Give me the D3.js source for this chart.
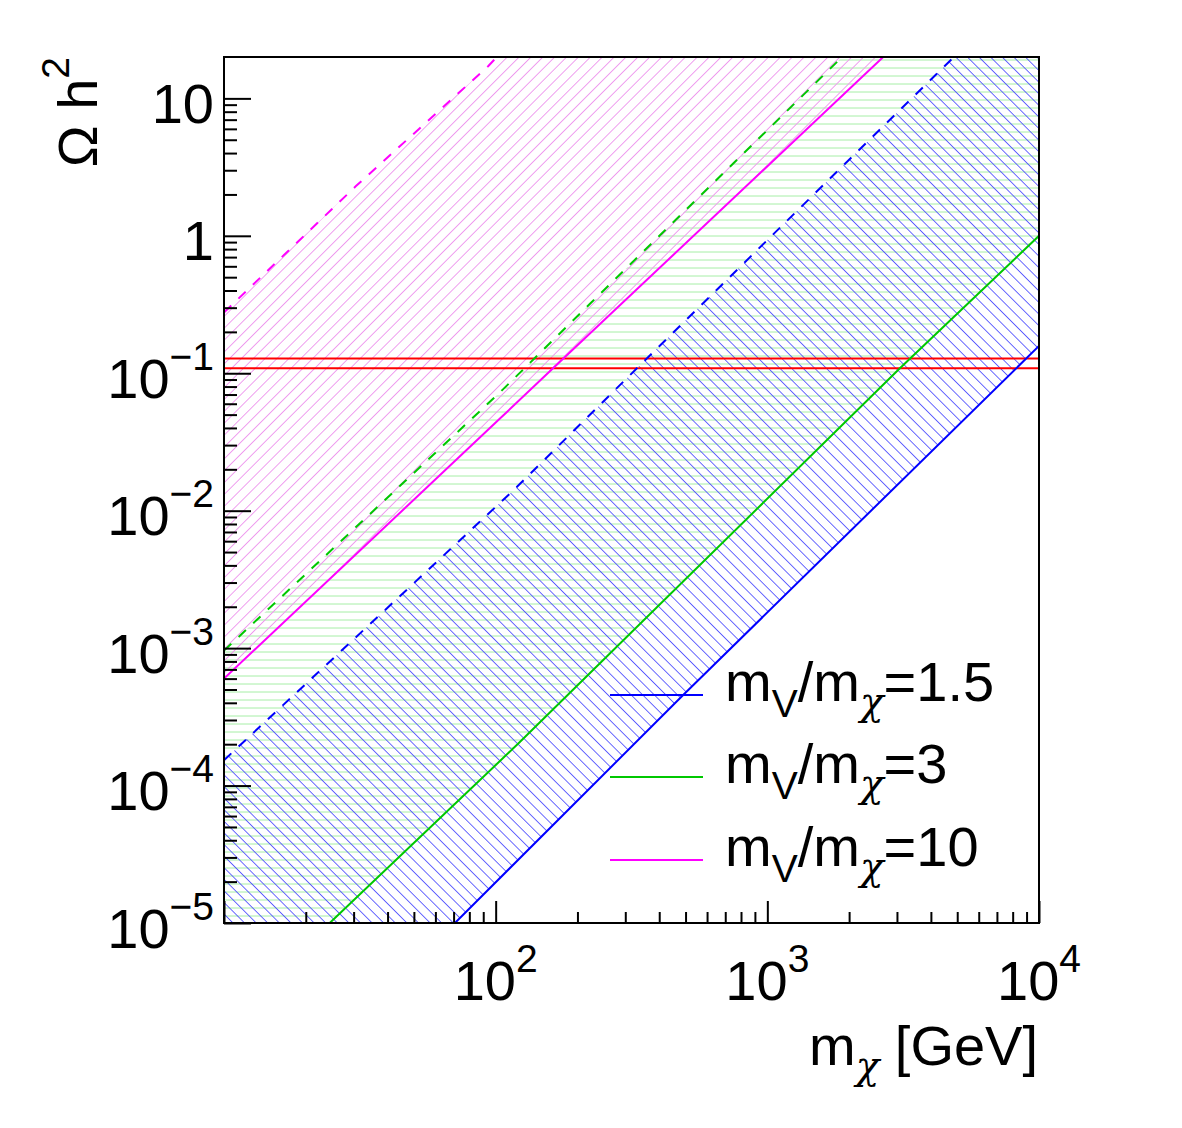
<!DOCTYPE html>
<html><head><meta charset="utf-8">
<script src="https://cdn.jsdelivr.net/npm/d3@7"></script>
<style>
body{margin:0;background:#fff}
text{font-family:"Liberation Sans",Arial,Helvetica,sans-serif;fill:#000}
.greek{font-family:"DejaVu Serif","Liberation Serif",serif;font-style:italic}
</style>
</head><body>
<svg id="c" width="1182" height="1128"></svg>
<script>
// ---------------- data ----------------
const xDomain = [10, 1e4];
const yDomain = [1e-5, 20];
const xMajorTicks = [10, 100, 1000, 10000];
const xTickLabels = [["10", "2", 100], ["10", "3", 1000], ["10", "4", 10000]];
const yMajorTicks = [1e-5, 1e-4, 1e-3, 1e-2, 1e-1, 1, 10];
const yTickLabels = [["10", "\u22125", 1e-5], ["10", "\u22124", 1e-4], ["10", "\u22123", 1e-3],
                     ["10", "\u22122", 1e-2], ["10", "\u22121", 1e-1], ["1", "", 1], ["10", "", 10]];
const ratioLabels = ["1.5", "3", "10"];
// curves: [m_chi (GeV), Omega h^2]
const blueSolid   = [[70.8, 1e-5], [489, 4.54e-4], [10000, 0.158]];
const blueDashed  = [[10, 1.53e-4], [116, 0.0140], [360, 0.128], [1849, 3.07], [4864, 20]];
const greenSolid  = [[24.5, 1e-5], [123, 2.08e-4], [3076, 0.1086], [10000, 1.0]];
const greenDashed = [[10, 9.6e-4], [103.7, 0.0726], [222, 0.319], [1884, 20]];
const magSolid    = [[10, 6.0e-4], [103.7, 0.0468], [162.6, 0.1086], [2670, 20]];
const magDashed   = [[10, 0.277], [30.6, 2.3], [94, 17.2], [101, 20]];
const relicBand   = [0.1086, 0.128];

// ---------------- layout / style ----------------
const L = 224, R = 1039, T = 57, B = 923;
const FS = 56, SFS = 39;
const svg = d3.select("#c");
const x = d3.scaleLog().domain(xDomain).range([L, R]);
const y = d3.scaleLog().domain(yDomain).range([B, T]);
const defs = svg.append("defs");

defs.append("clipPath").attr("id", "frameClip")
  .append("rect").attr("x", L).attr("y", T).attr("width", R - L).attr("height", B - T);

function hatch(id, color, angle, spacing, width) {
  const p = defs.append("pattern").attr("id", id).attr("patternUnits", "userSpaceOnUse")
    .attr("width", 40).attr("height", spacing)
    .attr("patternTransform", `rotate(${angle})`);
  p.append("line").attr("x1", 0).attr("x2", 40).attr("y1", spacing / 2).attr("y2", spacing / 2)
    .attr("stroke", color).attr("stroke-width", width);
}
hatch("hBlue", "#4848ff", 45, 8.2, 0.85);
hatch("hGreen", "#a6eea6", 0, 8.0, 1);
hatch("hMag", "#ee99ee", -45, 8.4, 1);

const line = d3.line().x(d => x(d[0])).y(d => y(d[1]));

const bands = [
  {id: "bGreen", upper: greenDashed, lower: greenSolid, fill: "url(#hGreen)"},
  {id: "bBlue", upper: blueDashed, lower: blueSolid, fill: "url(#hBlue)"},
  {id: "bMag", upper: magDashed, lower: magSolid, fill: "url(#hMag)"}
];

const plot = svg.append("g").attr("clip-path", "url(#frameClip)");
bands.forEach(b => {
  const poly = b.upper.concat([[xDomain[1], yDomain[1]]], b.lower.slice().reverse(), [[xDomain[0], yDomain[0]]]);
  defs.append("clipPath").attr("id", b.id).append("path").attr("d", line(poly) + "Z");
  plot.append("rect").attr("x", L).attr("y", T).attr("width", R - L).attr("height", B - T)
    .attr("fill", b.fill).attr("clip-path", `url(#${b.id})`);
});

// relic density lines
relicBand.forEach(v => {
  plot.append("line").attr("x1", L).attr("x2", R).attr("y1", y(v)).attr("y2", y(v))
    .attr("stroke", "#ff0000").attr("stroke-width", 2);
});

const curves = [
  {d: blueSolid, c: "#0000ff", dash: null},
  {d: greenSolid, c: "#00c800", dash: null},
  {d: magSolid, c: "#ff00ff", dash: null},
  {d: blueDashed, c: "#0000ff", dash: "10,10"},
  {d: greenDashed, c: "#00c800", dash: "10,10"},
  {d: magDashed, c: "#ff00ff", dash: "10,10"}
];
curves.forEach(cv => {
  plot.append("path").attr("d", line(cv.d)).attr("fill", "none")
    .attr("stroke", cv.c).attr("stroke-width", 2)
    .attr("stroke-dasharray", cv.dash);
});

// frame
svg.append("rect").attr("x", L).attr("y", T).attr("width", R - L).attr("height", B - T)
  .attr("fill", "none").attr("stroke", "#000").attr("stroke-width", 2);

// ticks
function minorTicks(dom) {
  const out = [];
  for (let e = Math.floor(Math.log10(dom[0])); e <= Math.ceil(Math.log10(dom[1])); e++) {
    for (let k = 2; k <= 9; k++) {
      const v = k * Math.pow(10, e);
      if (v > dom[0] * 1.0001 && v < dom[1] * 0.9999) out.push(v);
    }
  }
  return out;
}
const axStyle = g => { g.select(".domain").remove(); g.selectAll("line").attr("stroke", "#000").attr("stroke-width", 2); g.selectAll("text").remove(); };
svg.append("g").attr("transform", `translate(0,${B})`)
  .call(d3.axisBottom(x).tickValues(xMajorTicks).tickSize(-22).tickFormat("")).call(axStyle);
svg.append("g").attr("transform", `translate(0,${B})`)
  .call(d3.axisBottom(x).tickValues(minorTicks(xDomain)).tickSize(-11).tickFormat("")).call(axStyle);
svg.append("g").attr("transform", `translate(${L},0)`)
  .call(d3.axisLeft(y).tickValues(yMajorTicks).tickSize(-27).tickFormat("")).call(axStyle);
svg.append("g").attr("transform", `translate(${L},0)`)
  .call(d3.axisLeft(y).tickValues(minorTicks(yDomain)).tickSize(-13).tickFormat("")).call(axStyle);

// tick labels
xTickLabels.forEach(([b, e, v]) => {
  const t = svg.append("text").attr("x", x(v)).attr("y", 1000).attr("text-anchor", "middle")
    .attr("font-size", FS);
  t.append("tspan").text(b);
  t.append("tspan").attr("font-size", SFS).attr("dy", -28).text(e);
});
yTickLabels.forEach(([b, e, v]) => {
  const t = svg.append("text").attr("x", 214).attr("y", y(v) + 24.5).attr("text-anchor", "end")
    .attr("font-size", FS);
  t.append("tspan").text(b);
  if (e) t.append("tspan").attr("font-size", SFS).attr("dy", -28).text(e);
});

// axis titles
const xt = svg.append("text").attr("x", 1038).attr("y", 1065).attr("text-anchor", "end").attr("font-size", FS);
xt.append("tspan").text("m");
xt.append("tspan").attr("class", "greek").attr("font-size", SFS).attr("dy", 14).text("\u03c7");
xt.append("tspan").attr("dy", -14).text(" [GeV]");

const yt = svg.append("text").attr("transform", `translate(97,${T}) rotate(-90)`)
  .attr("text-anchor", "end").attr("font-size", FS);
yt.append("tspan").text("\u03a9 h");
yt.append("tspan").attr("font-size", SFS).attr("dy", -28).text("2");

// legend
const legColors = ["#0000ff", "#00c800", "#ff00ff"];
const legY = [695, 777, 860];
ratioLabels.forEach((r, i) => {
  svg.append("line").attr("x1", 610).attr("x2", 703).attr("y1", legY[i]).attr("y2", legY[i])
    .attr("stroke", legColors[i]).attr("stroke-width", 2);
  const t = svg.append("text").attr("x", 725).attr("y", legY[i] + 5.5).attr("font-size", FS);
  t.append("tspan").text("m");
  t.append("tspan").attr("font-size", SFS).attr("dy", 16).text("V");
  t.append("tspan").attr("dy", -16).text("/m");
  t.append("tspan").attr("class", "greek").attr("font-size", SFS).attr("dy", 14).text("\u03c7");
  t.append("tspan").attr("dy", -14).text("=" + r);
});
</script>
</body></html>
